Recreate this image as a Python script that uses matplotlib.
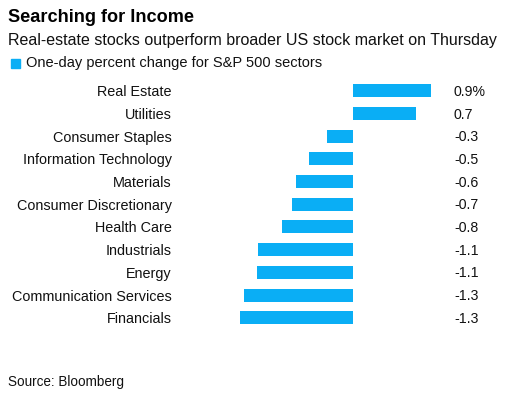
import matplotlib
matplotlib.use("Agg")
import matplotlib.pyplot as plt

plt.rcParams['font.family'] = ['Liberation Sans', 'DejaVu Sans']

sectors = ["Real Estate", "Utilities", "Consumer Staples", "Information Technology",
           "Materials", "Consumer Discretionary", "Health Care", "Industrials",
           "Energy", "Communication Services", "Financials"]
changes = [0.90, 0.72, -0.29, -0.50, -0.65, -0.70, -0.81, -1.08, -1.10, -1.25, -1.29]
value_labels = ["0.9%", "0.7", "-0.3", "-0.5", "-0.6", "-0.7", "-0.8", "-1.1", "-1.1", "-1.3", "-1.3"]

blue = '#0aaef5'
W, H = 529, 396
fig = plt.figure(figsize=(W / 100, H / 100), dpi=100)

# axes placed in pixel terms
left, right, top, bottom = 180, 529, 79, 330
ax = fig.add_axes([left / W, 1 - bottom / H, (right - left) / W, (bottom - top) / H])

ypos = list(range(len(sectors)))
ax.barh(ypos, changes, height=0.57, color=blue)
ax.set_xlim(-1.978, 2.019)
ax.set_ylim(10.54, -0.515)
ax.set_yticks(ypos)
ax.set_yticklabels(sectors, fontsize=10.4, color='#111111')
ax.tick_params(axis='y', length=0, pad=6)
ax.set_xticks([])
for s in ax.spines.values():
    s.set_visible(False)

for y, lab in zip(ypos, value_labels):
    ax.text(1.16, y + 0.05, lab, fontsize=10.2, color='#111111', va='center', ha='left')

fig.text(8 / W, 1 - 17 / H, "Searching for Income", fontsize=13.1, fontweight='bold',
         va='center', ha='left', color='#000000')
fig.text(8 / W, 1 - 40 / H, "Real-estate stocks outperform broader US stock market on Thursday",
         fontsize=11.55, va='center', ha='left', color='#111111')
fig.patches.append(plt.Rectangle((11 / W, 1 - 68 / H), 9 / W, 9 / H, transform=fig.transFigure,
                                 color=blue, figure=fig))
fig.text(26 / W, 1 - 63 / H, "One-day percent change for S&P 500 sectors",
         fontsize=10.5, va='center', ha='left', color='#111111')
fig.text(8 / W, 1 - 382 / H, "Source: Bloomberg", fontsize=9.75, va='center', ha='left',
         color='#111111')

fig.savefig("out.png", dpi=100, facecolor='white')
